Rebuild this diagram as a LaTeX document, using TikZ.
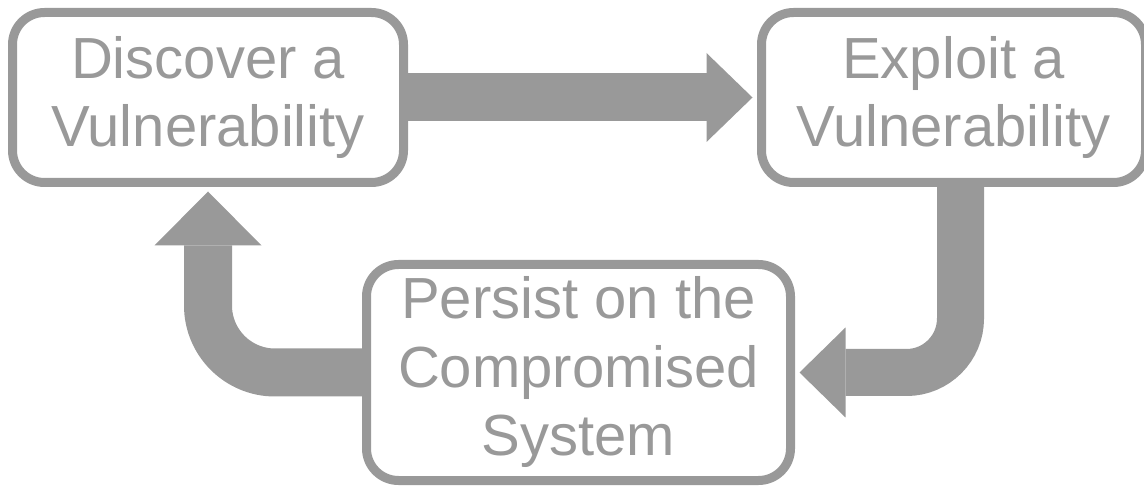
\documentclass[tikz,border=0pt]{standalone}
\usepackage{fontspec}
\setmainfont{Liberation Sans}
\usepackage{tikz}
\usetikzlibrary{
  calc,
  positioning,
  arrows.meta
}
\definecolor{stepgray}{HTML}{999999}

\begin{document}
\begin{tikzpicture}[x=1pt, y=-1pt,
    box/.style = {draw=stepgray, line width=9pt, rounded corners=32pt,
      fill=white, inner sep=0pt, align=center, text=stepgray,
      font=\fontsize{58}{68.5}\selectfont},
    flow/.style = {draw=stepgray, line width=48pt, line cap=butt}]
    \useasboundingbox (0,0) rectangle (1144,486);

    \node[box, minimum width=391pt, minimum height=170pt] (disc) at (208,97.5)
      {Discover a\\Vulnerability};
    \node[box, minimum width=384pt, minimum height=170pt, right = 349pt of disc] (expl)
      {Exploit a\\Vulnerability};
    \node[box, minimum width=424pt, minimum height=216pt] (pers) at (578.5,372.5)
      {Persist on the\\Compromised\\System};

    % block arrows, tips end on the outer edge of the border
    \draw[flow, -{Triangle[length=46pt, width=89pt, line width=0pt]}]
      (disc.east) -- ($(expl.west)-(4.5,0)$);
    \draw[flow, line width=47pt, rounded corners=54pt,
      -{Triangle[length=46pt, width=90pt, line width=0pt]}]
      ($(expl.south)+(7,0)$) |- ($(pers.east)+(4.5,0)$);
    \draw[flow, rounded corners=67pt,
      -{Triangle[length=54pt, width=107pt, line width=0pt]}]
      (pers.west) -| ($(disc.south)+(0,4.5)$);
\end{tikzpicture}
\end{document}
